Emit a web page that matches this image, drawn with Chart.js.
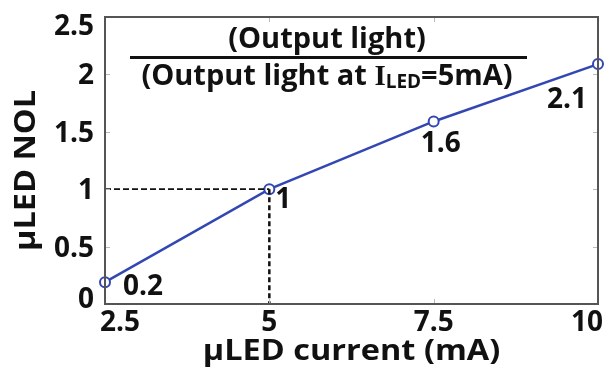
<!DOCTYPE html>
<html><head><meta charset="utf-8">
<script src="https://cdn.jsdelivr.net/npm/chart.js@4/dist/chart.umd.min.js"></script>
<style>html,body{margin:0;padding:0;background:#fff}#c{display:block}</style>
</head><body>
<canvas id="c" width="607" height="367"></canvas>
<script>
const currents = [2.5, 5, 7.5, 10];
const nol = [0.19, 1.0, 1.59, 2.09];
const pointLabels = ['0.2', '1', '1.6', '2.1'];
const xTicks = [2.5, 5, 7.5, 10];
const xTickLabels = ['2.5', '5', '7.5', '10'];
const yTicks = [0, 0.5, 1, 1.5, 2, 2.5];
const yTickLabels = ['0', '0.5', '1', '1.5', '2', '2.5'];
const refX = 5, refY = 1;
const xTitle = 'µLED current (mA)';
const yTitle = 'µLED NOL';
const fracTop = '(Output light)';
const fracBottom = ['(Output light at ', 'I', 'LED', '=5mA)'];

// label placement (center x offset, baseline offset) relative to the point
const labelOffsets = [[38, 13], [14, 19], [7, 31], [-31, 44]];
const FONT = '"Open Sans", "DejaVu Sans", sans-serif';
const SERIF = '"Liberation Serif", "DejaVu Serif", serif';
const BLUE = '#3347b3';
const INK = '#111';

function txt(ctx, s, x, y, size, align, stretch, family) {
  ctx.save();
  ctx.font = 'bold ' + size + 'px ' + (family || FONT);
  ctx.textAlign = align; ctx.textBaseline = 'alphabetic';
  ctx.translate(x, y);
  ctx.scale(stretch || 1, 1);
  ctx.fillText(s, 0, 0);
  ctx.restore();
}

const overlay = {
  id: 'overlay',
  afterDatasetsDraw(chart) {
    const ctx = chart.ctx, a = chart.chartArea;
    const xs = chart.scales.x, ys = chart.scales.y;
    ctx.save();
    ctx.strokeStyle = INK;
    const px = xs.getPixelForValue(refX), py = ys.getPixelForValue(refY);
    ctx.lineWidth = 1.8; ctx.setLineDash([6, 3]);
    ctx.beginPath(); ctx.moveTo(a.left, py); ctx.lineTo(px, py); ctx.stroke();
    ctx.lineWidth = 2.5; ctx.setLineDash([5, 3]);
    ctx.beginPath(); ctx.moveTo(px, py); ctx.lineTo(px, a.bottom); ctx.stroke();
    ctx.restore();
  },
  afterDraw(chart) {
    const ctx = chart.ctx, a = chart.chartArea;
    const xs = chart.scales.x, ys = chart.scales.y;
    ctx.save();
    // inner ticks
    ctx.strokeStyle = '#bbb'; ctx.lineWidth = 1;
    yTicks.forEach(v => {
      const y = Math.round(ys.getPixelForValue(v)) + 0.5;
      ctx.beginPath(); ctx.moveTo(a.left, y); ctx.lineTo(a.left + 5, y); ctx.stroke();
      ctx.beginPath(); ctx.moveTo(a.right, y); ctx.lineTo(a.right - 5, y); ctx.stroke();
    });
    xTicks.forEach(v => {
      const x = Math.round(xs.getPixelForValue(v)) + 0.5;
      ctx.beginPath(); ctx.moveTo(x, a.bottom); ctx.lineTo(x, a.bottom - 5); ctx.stroke();
      ctx.beginPath(); ctx.moveTo(x, a.top); ctx.lineTo(x, a.top + 5); ctx.stroke();
    });
    // frame
    ctx.strokeStyle = '#555'; ctx.lineWidth = 2;
    ctx.strokeRect(a.left, a.top, a.right - a.left, a.bottom - a.top);
    ctx.fillStyle = INK;
    // y tick labels
    yTicks.forEach((v, i) => {
      let b = ys.getPixelForValue(v) + 10;
      b = Math.min(Math.max(b, a.top + 18), a.bottom + 4);
      txt(ctx, yTickLabels[i], a.left - 11, b, 28, 'right');
    });
    // x tick labels (kept inside the canvas)
    xTicks.forEach((v, i) => {
      const x = xs.getPixelForValue(v);
      ctx.font = 'bold 28px ' + FONT;
      const w = ctx.measureText(xTickLabels[i]).width;
      const cx = Math.min(Math.max(x, w / 2 + 100), chart.width - w / 2 - 4);
      txt(ctx, xTickLabels[i], cx, a.bottom + 27, 28, 'center');
    });
    // axis titles
    txt(ctx, xTitle, (a.left + a.right) / 2 + 0, a.bottom + 56, 29, 'center', 1.12);
    ctx.save();
    ctx.translate(35, (a.top + a.bottom) / 2 + 10);
    ctx.rotate(-Math.PI / 2);
    txt(ctx, yTitle, 0, 0, 29, 'center', 1.12);
    ctx.restore();
    // point labels
    currents.forEach((c, i) => {
      const x = xs.getPixelForValue(c) + labelOffsets[i][0];
      const y = ys.getPixelForValue(nol[i]) + labelOffsets[i][1];
      txt(ctx, pointLabels[i], x, y, 28, 'center');
    });
    // fraction annotation
    const cx = 327;
    txt(ctx, fracTop, cx, 48, 29, 'center');
    ctx.fillRect(130, 56, 397, 3);
    const sizes = [29, 29, 19, 29], fams = [FONT, SERIF, FONT, FONT], dy = [0, 0, 3, 0];
    const widths = fracBottom.map((s, i) => {
      ctx.font = 'bold ' + sizes[i] + 'px ' + fams[i];
      return ctx.measureText(s).width;
    });
    const total = widths.reduce((p, q) => p + q, 0);
    let x0 = cx - total / 2;
    fracBottom.forEach((s, i) => {
      txt(ctx, s, x0, 85 + dy[i], sizes[i], 'left', 1, fams[i]);
      x0 += widths[i];
    });
    ctx.restore();
  }
};

new Chart(document.getElementById('c'), {
  type: 'line',
  data: {
    datasets: [{
      data: currents.map((c, i) => ({ x: c, y: nol[i] })),
      borderColor: BLUE, borderWidth: 2.5,
      pointRadius: 5, pointBorderWidth: 2,
      pointBackgroundColor: '#fff', pointBorderColor: BLUE,
      clip: false, tension: 0
    }]
  },
  options: {
    responsive: false, animation: false,
    layout: { padding: { left: 105, right: 9, top: 17, bottom: 63 } },
    plugins: { legend: { display: false }, tooltip: { enabled: false } },
    scales: {
      x: { type: 'linear', min: 2.5, max: 10, display: false },
      y: { type: 'linear', min: 0, max: 2.5, display: false }
    }
  },
  plugins: [overlay]
});
</script>
</body></html>
